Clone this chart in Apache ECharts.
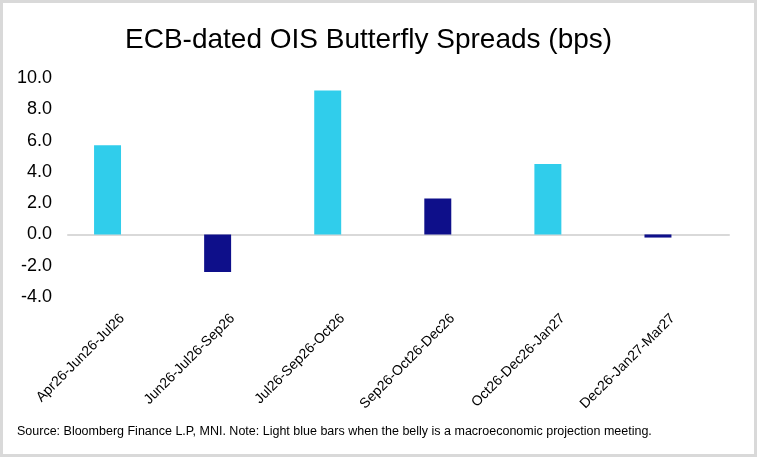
<!DOCTYPE html>
<html>
<head>
<meta charset="utf-8">
<script src="https://cdn.jsdelivr.net/npm/echarts@6/dist/echarts.min.js"></script>
<style>
  html, body { margin: 0; padding: 0; background: #fff; }
  #chart { width: 757px; height: 457px; }
</style>
</head>
<body>
<div id="chart"></div>
<script>
const chart = echarts.init(document.getElementById("chart"));

const categories = [
    "Apr26-Jun26-Jul26",
    "Jun26-Jul26-Sep26",
    "Jul26-Sep26-Oct26",
    "Sep26-Oct26-Dec26",
    "Oct26-Dec26-Jan27",
    "Dec26-Jan27-Mar27"
];
const spreads = [5.7, -2.4, 9.2, 2.3, 4.5, -0.2];
// belly is a macroeconomic projection meeting
const projectionBelly = [true, false, true, false, true, false];

const lightBlue = "#30CDEB";
const darkBlue = "#0E0F8A";
const font = "Liberation Sans, Arial, sans-serif";

const barData = spreads.map((v, i) => ({
    value: v,
    itemStyle: { color: projectionBelly[i] ? lightBlue : darkBlue }
}));

const option = {
    animation: false,
    textStyle: { fontFamily: font },
    title: {
        text: "ECB-dated OIS Butterfly Spreads (bps)",
        left: 120,
        top: 21,
        textStyle: { fontSize: 28, fontWeight: "normal", color: "#000", fontFamily: font }
    },
    graphic: [
        {
            type: "rect",
            shape: { x: 1.5, y: 1.5, width: 754, height: 454 },
            style: { fill: "none", stroke: "#d9d9d9", lineWidth: 3 },
            silent: true
        },
        {
            type: "text",
            left: 17,
            top: 425,
            style: {
                text: "Source: Bloomberg Finance L.P, MNI. Note: Light blue bars when the belly is a macroeconomic projection meeting.",
                fontSize: 12.5,
                fill: "#000",
                fontFamily: font
            }
        }
    ],
    grid: [
        // bars
        { left: 52.5, right: 44, top: 78, bottom: 160 },
        // zero line and value labels
        { left: 68, right: 28, top: 78, bottom: 160 }
    ],
    xAxis: [
        {
            type: "category",
            gridIndex: 0,
            data: categories,
            axisLine: { show: false },
            axisTick: { show: false },
            axisLabel: {
                rotate: 45,
                interval: 0,
                fontSize: 14,
                color: "#000",
                margin: 34,
                padding: [0, -21, 0, 0]
            }
        },
        {
            type: "category",
            gridIndex: 1,
            data: categories,
            axisLine: { onZero: true, lineStyle: { color: "#d9d9d9", width: 2 } },
            axisTick: { show: false },
            axisLabel: { show: false }
        }
    ],
    yAxis: [
        {
            type: "value",
            gridIndex: 0,
            min: -4,
            max: 10,
            interval: 2,
            show: false
        },
        {
            type: "value",
            gridIndex: 1,
            min: -4,
            max: 10,
            interval: 2,
            splitLine: { show: false },
            axisLine: { show: false },
            axisTick: { show: false },
            axisLabel: {
                fontSize: 18,
                color: "#000",
                margin: 16,
                formatter: v => v.toFixed(1)
            }
        }
    ],
    series: [
        {
            name: "Butterfly",
            type: "bar",
            xAxisIndex: 0,
            yAxisIndex: 0,
            barWidth: "24.5%",
            data: barData
        }
    ]
};

chart.setOption(option);
window.addEventListener("resize", () => chart.resize());
</script>
</body>
</html>
